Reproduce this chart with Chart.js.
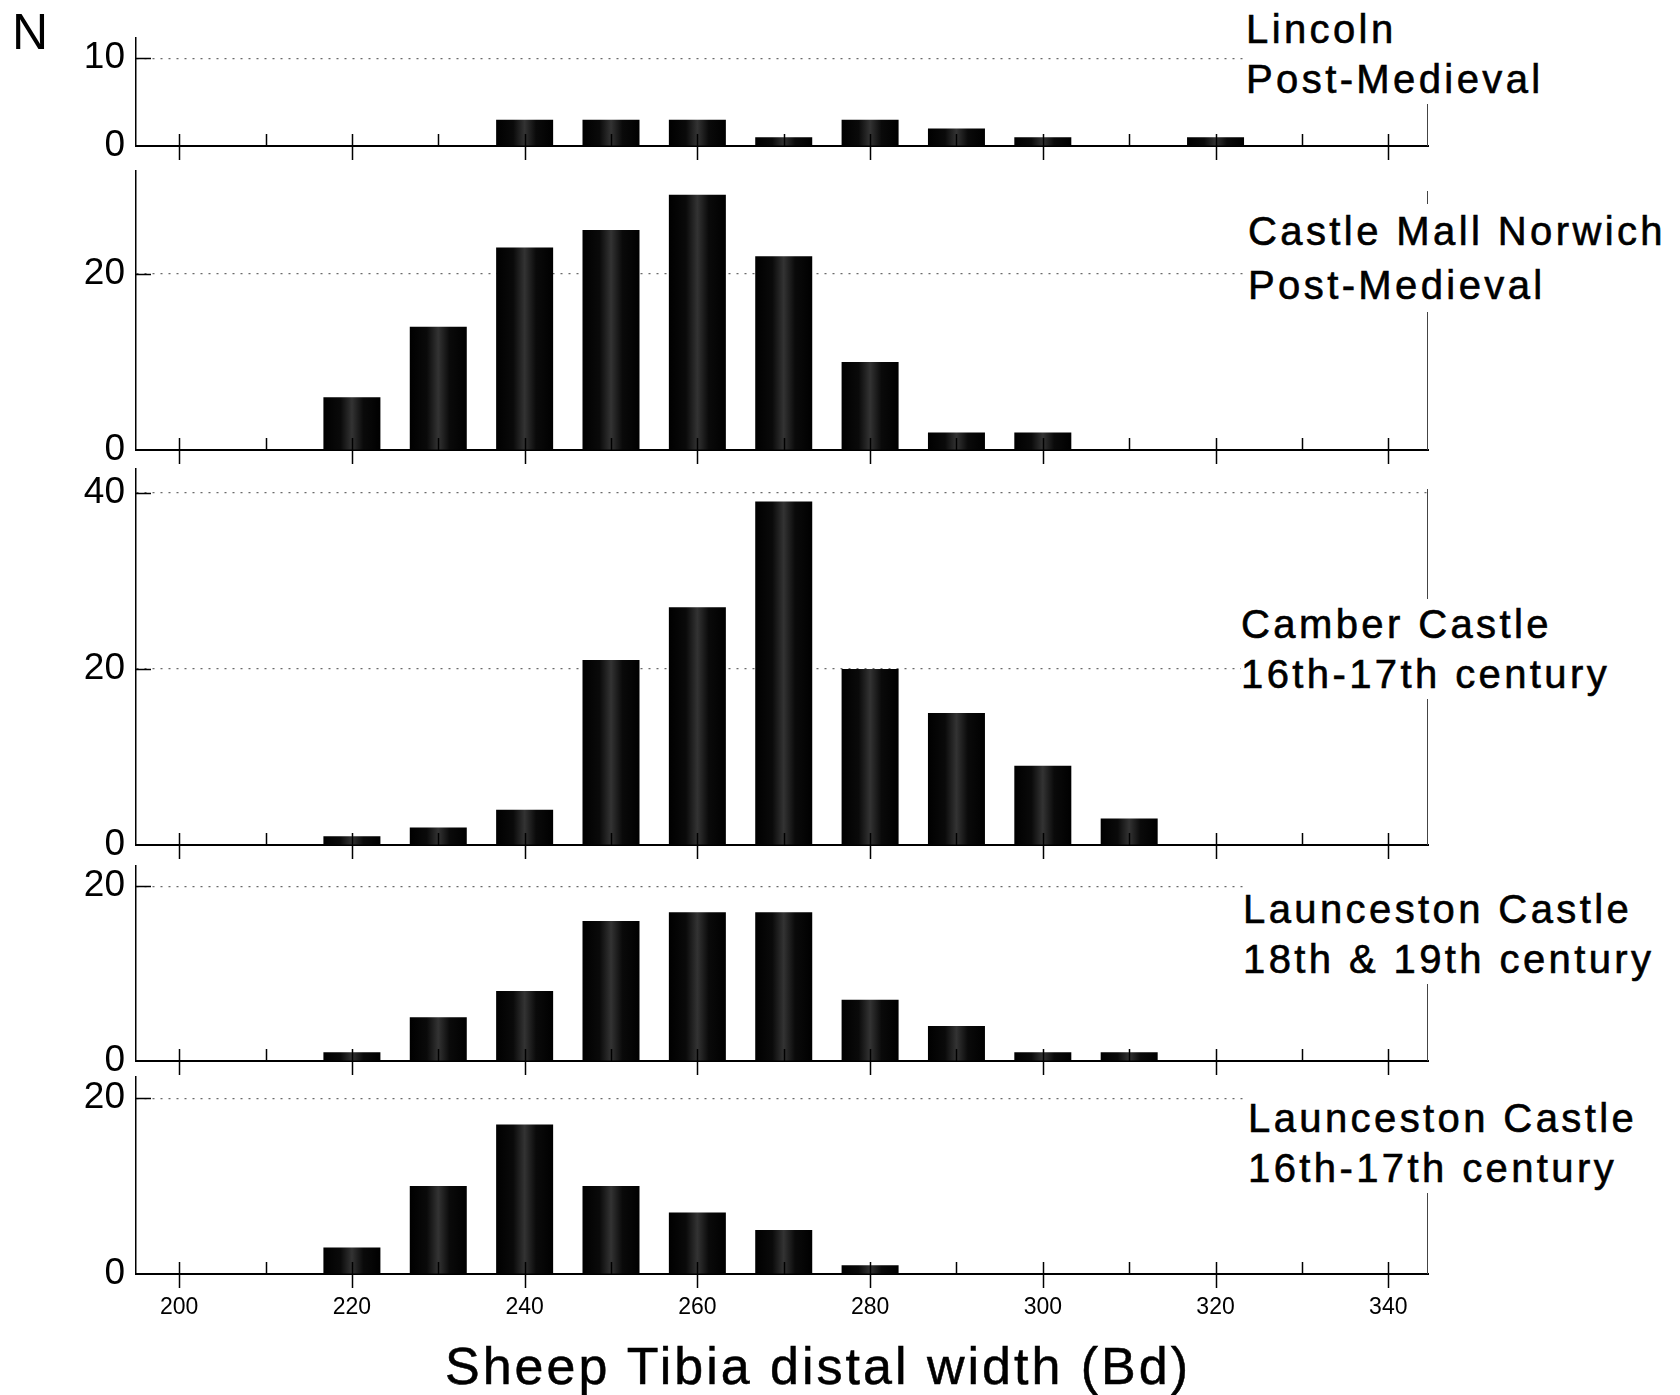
<!DOCTYPE html>
<html>
<head>
<meta charset="utf-8">
<title>Sheep tibia distal width</title>
<script src="https://cdn.jsdelivr.net/npm/chart.js@4.4.1/dist/chart.umd.min.js"></script>
<style>
  html, body { margin: 0; padding: 0; background: #fff; }
  #page { position: relative; width: 1680px; height: 1395px; overflow: hidden; font-family: "Liberation Sans", Arial, sans-serif; color: #000; }
  canvas { position: absolute; left: 0; }
  .site { position: absolute; font-size: 40px; line-height: 50px; letter-spacing: 3.4px; background: #fff; white-space: nowrap; padding-right: 4px; -webkit-text-stroke: 0.6px #000; }
  #nLabel { position: absolute; left: 12px; top: 7px; font-size: 50px; line-height: 50px; }
  #xTitle { position: absolute; left: 0; width: 1636px; top: 1339px; text-align: center; font-size: 52px; line-height: 54px; letter-spacing: 3px; -webkit-text-stroke: 0.5px #000; }
</style>
</head>
<body>
<div id="page">
  <canvas id="p0"></canvas>
  <canvas id="p1"></canvas>
  <canvas id="p2"></canvas>
  <canvas id="p3"></canvas>
  <canvas id="p4"></canvas>
  <div id="nLabel">N</div>
  <div class="site" style="left:1246px; top:4px;">Lincoln<br>Post-Medieval</div>
  <div class="site" style="left:1248px; top:204px; line-height:54px;">Castle Mall Norwich<br>Post-Medieval</div>
  <div class="site" style="left:1241px; top:599px;">Camber Castle<br>16th-17th century</div>
  <div class="site" style="left:1243px; top:884px;">Launceston Castle<br>18th &amp; 19th century</div>
  <div class="site" style="left:1248px; top:1093px;">Launceston Castle<br>16th-17th century</div>
  <div id="xTitle">Sheep Tibia distal width (Bd)</div>
</div>
<script>
// bin centres (Bd, 0.1 mm units) and counts per site
const BINS = [220, 230, 240, 250, 260, 270, 280, 290, 300, 310, 320];
const LINCOLN_PM = [0, 0, 3, 3, 3, 1, 3, 2, 1, 0, 1];
const NORWICH_PM = [6, 14, 23, 25, 29, 22, 10, 2, 2, 0, 0];
const CAMBER_16_17 = [1, 2, 4, 21, 27, 39, 20, 15, 9, 3, 0];
const LAUNCESTON_18_19 = [1, 5, 8, 16, 17, 17, 7, 4, 1, 1, 0];
const LAUNCESTON_16_17 = [3, 10, 17, 10, 7, 5, 1, 0, 0, 0, 0];

const X_TICKS = [200, 210, 220, 230, 240, 250, 260, 270, 280, 290, 300, 310, 320, 330, 340];
const Y_TICKS = [[0, 10], [0, 20], [0, 20, 40], [0, 20], [0, 20]];
const Y_MAX = [12.3, 31.7, 42.7, 22.3, 22.4];
const SERIES = [LINCOLN_PM, NORWICH_PM, CAMBER_16_17, LAUNCESTON_18_19, LAUNCESTON_16_17];

// panel frames on the page: top of the y axis and the zero line
const PANEL_TOP = [38, 171, 469, 866, 1077];
const PANEL_BASE = [146, 450, 845, 1061, 1274];

const AREA_LEFT = 136;
const AREA_RIGHT = 1428;
const PAD_TOP = 6;
const FONT = '"Liberation Sans", Arial, sans-serif';

// black bars with a lighter speckled band down the middle
function barFill(context) {
  const chart = context.chart;
  const x = chart.scales && chart.scales.x;
  if (!x || context.type !== 'data' || !context.raw) return '#000';
  const left = x.getPixelForValue(context.raw.x - 3.3);
  const right = x.getPixelForValue(context.raw.x + 3.3);
  if (!Number.isFinite(left) || !Number.isFinite(right) || right <= left) return '#000';
  const g = chart.ctx.createLinearGradient(left, 0, right, 0);
  g.addColorStop(0, '#000');
  g.addColorStop(0.3, '#0a0a0a');
  g.addColorStop(0.5, '#333');
  g.addColorStop(0.7, '#0a0a0a');
  g.addColorStop(1, '#000');
  return g;
}

// tick marks crossing the zero line, inner y ticks and the right frame
const axisMarks = {
  id: 'axisMarks',
  afterDatasetsDraw(chart) {
    const { ctx, chartArea: a, scales: { x, y } } = chart;
    ctx.save();
    ctx.strokeStyle = '#000';
    ctx.lineWidth = 1.5;
    ctx.beginPath();
    x.ticks.forEach((t) => {
      const px = Math.round(x.getPixelForValue(t.value)) + 0.5;
      const major = t.value % 20 === 0;
      ctx.moveTo(px, a.bottom - 12);
      ctx.lineTo(px, major ? a.bottom + 14 : a.bottom);
    });
    y.ticks.forEach((t) => {
      if (t.value === 0) return;
      const py = Math.round(y.getPixelForValue(t.value)) + 0.5;
      ctx.moveTo(a.left, py);
      ctx.lineTo(a.left + 15, py);
    });
    ctx.stroke();
    ctx.strokeStyle = '#444';
    ctx.lineWidth = 1;
    ctx.beginPath();
    ctx.moveTo(a.right - 0.5, a.top + 20);
    ctx.lineTo(a.right - 0.5, a.bottom);
    ctx.stroke();
    ctx.restore();
  }
};

function makePanel(i) {
  const last = i === SERIES.length - 1;
  const xHeight = last ? 60 : 18;
  const canvas = document.getElementById('p' + i);
  canvas.width = 1680;
  canvas.height = PAD_TOP + (PANEL_BASE[i] - PANEL_TOP[i]) + xHeight;
  canvas.style.top = (PANEL_TOP[i] - PAD_TOP) + 'px';

  return new Chart(canvas, {
    type: 'bar',
    data: {
      datasets: [{
        data: BINS.map((b, k) => ({ x: b, y: SERIES[i][k] })),
        backgroundColor: barFill,
        borderWidth: 0,
        barPercentage: 0.66,
        categoryPercentage: 1
      }]
    },
    options: {
      responsive: false,
      devicePixelRatio: 1,
      animation: false,
      layout: { padding: { left: 0, right: 1680 - AREA_RIGHT, top: PAD_TOP, bottom: 0 } },
      plugins: { legend: { display: false }, tooltip: { enabled: false }, title: { display: false } },
      scales: {
        x: {
          type: 'linear',
          min: 195,
          max: 344.6,
          offset: false,
          afterBuildTicks: (scale) => { scale.ticks = X_TICKS.map((v) => ({ value: v })); },
          afterFit: (scale) => {
            scale.height = xHeight;
            scale.paddingLeft = 0;
            scale.paddingRight = 0;
          },
          grid: { display: true, drawOnChartArea: false, drawTicks: false },
          border: { display: true, color: '#000', width: 2 },
          ticks: {
            display: last,
            autoSkip: false,
            maxRotation: 0,
            padding: 20,
            color: '#000',
            font: { family: FONT, size: 23 },
            callback: (v) => (v % 20 === 0 ? String(v) : '')
          }
        },
        y: {
          min: 0,
          max: Y_MAX[i],
          afterBuildTicks: (scale) => { scale.ticks = Y_TICKS[i].map((v) => ({ value: v })); },
          afterFit: (scale) => {
            scale.width = AREA_LEFT;
            scale.paddingTop = 0;
            scale.paddingBottom = 0;
          },
          grid: {
            drawTicks: false,
            lineWidth: 1.2,
            color: (ctx) => (ctx.tick && ctx.tick.value === 0 ? 'rgba(0,0,0,0)' : '#6a6a6a')
          },
          border: { display: true, color: '#000', width: 1.5, dash: [2, 6] },
          ticks: {
            padding: 11,
            color: '#000',
            font: { family: FONT, size: 37 }
          }
        }
      }
    },
    plugins: [axisMarks]
  });
}

SERIES.forEach((_, i) => makePanel(i));
</script>
</body>
</html>
